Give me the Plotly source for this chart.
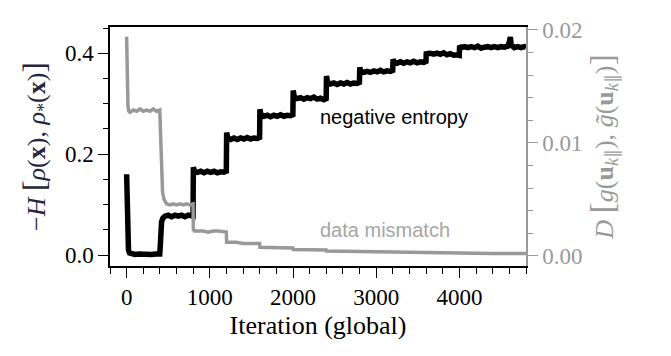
import plotly.graph_objects as go

# ---- data: negative entropy (left axis) ----
ent_iter = [0, 4, 8, 14, 22, 35, 60, 100, 150, 200, 250, 300, 350, 398,
            405, 412, 420, 435, 460, 500, 540, 580, 620, 660, 700, 740, 780, 798,
            802, 815, 850, 890, 930, 970, 1010, 1050, 1090, 1130, 1170, 1198,
            1202, 1215, 1250, 1290, 1330, 1370, 1410, 1450, 1490, 1530, 1570, 1598,
            1602, 1615, 1650, 1690, 1730, 1770, 1810, 1850, 1890, 1930, 1970, 1998,
            2002, 2015, 2050, 2090, 2130, 2170, 2210, 2250, 2290, 2330, 2370, 2398,
            2402, 2415, 2450, 2490, 2530, 2570, 2610, 2650, 2690, 2730, 2770, 2798,
            2802, 2815, 2850, 2890, 2930, 2970, 3010, 3050, 3090, 3130, 3170, 3198,
            3202, 3215, 3250, 3290, 3330, 3370, 3410, 3450, 3490, 3530, 3570, 3598,
            3602, 3615, 3650, 3690, 3730, 3770, 3810, 3850, 3890, 3930, 3970, 3998,
            4002, 4020, 4060, 4100, 4140, 4180, 4220, 4260, 4300, 4340, 4380, 4420,
            4460, 4500, 4540, 4580, 4600, 4612, 4622, 4660, 4700, 4740, 4780, 4800]
ent_vals = [0.160, 0.110, 0.060, 0.025, 0.010, 0.004, 0.002, 0.001, 0.002, 0.001, 0.002, 0.001, 0.002, 0.002,
            0.020, 0.050, 0.066, 0.073, 0.077, 0.079, 0.076, 0.079, 0.077, 0.079, 0.076, 0.079, 0.078, 0.077,
            0.174, 0.166, 0.164, 0.166, 0.163, 0.166, 0.164, 0.166, 0.163, 0.165, 0.164, 0.166,
            0.243, 0.232, 0.229, 0.232, 0.229, 0.232, 0.230, 0.233, 0.230, 0.232, 0.231, 0.233,
            0.289, 0.278, 0.275, 0.277, 0.274, 0.277, 0.275, 0.278, 0.275, 0.277, 0.276, 0.278,
            0.326, 0.313, 0.310, 0.312, 0.309, 0.312, 0.310, 0.313, 0.309, 0.311, 0.308, 0.310,
            0.355, 0.342, 0.339, 0.341, 0.338, 0.341, 0.339, 0.342, 0.339, 0.341, 0.340, 0.342,
            0.372, 0.364, 0.362, 0.364, 0.362, 0.365, 0.363, 0.366, 0.363, 0.365, 0.364, 0.366,
            0.388, 0.382, 0.380, 0.383, 0.380, 0.383, 0.381, 0.384, 0.381, 0.383, 0.382, 0.384,
            0.403, 0.399, 0.400, 0.398, 0.400, 0.398, 0.401, 0.397, 0.399, 0.396, 0.397, 0.396,
            0.415, 0.411, 0.413, 0.411, 0.413, 0.411, 0.414, 0.410, 0.412, 0.413, 0.411, 0.413,
            0.411, 0.413, 0.412, 0.414, 0.422, 0.432, 0.416, 0.411, 0.413, 0.411, 0.413, 0.412]

# ---- data: data mismatch (right axis) ----
mis_iter = [0, 3, 6, 10, 16, 25, 40, 80, 120, 160, 200, 240, 280, 320, 360, 398,
            405, 412, 420, 432, 450, 480, 520, 560, 600, 640, 680, 720, 760, 798,
            802, 815, 860, 920, 980, 1040, 1100, 1160, 1198,
            1202, 1260, 1320, 1400, 1480, 1560, 1598,
            1602, 1700, 1800, 1900, 1998,
            2002, 2100, 2200, 2300, 2398,
            2402, 2500, 2600, 2700, 2798,
            2802, 3000, 3198,
            3202, 3400, 3598,
            3602, 3800, 3998,
            4002, 4400, 4800]
mis_vals = [0.0194, 0.0175, 0.0155, 0.0140, 0.0132, 0.0128, 0.0127, 0.0129, 0.0128, 0.0130, 0.0128, 0.0129, 0.0128, 0.0130, 0.0128, 0.0129,
            0.0110, 0.0085, 0.0068, 0.0056, 0.0050, 0.0046, 0.0045, 0.0046, 0.0045, 0.0046, 0.0045, 0.0046, 0.0045, 0.0046,
            0.0023, 0.0022, 0.0022, 0.0022, 0.0021, 0.0022, 0.0022, 0.0021, 0.0021,
            0.0012, 0.0012, 0.0012, 0.0011, 0.0011, 0.0011, 0.0011,
            0.00075, 0.00072, 0.00072, 0.0007, 0.0007,
            0.00055, 0.00054, 0.00053, 0.00052, 0.00052,
            0.00042, 0.00041, 0.00040, 0.00040, 0.00039,
            0.00033, 0.00032, 0.00031,
            0.00027, 0.00026, 0.00026,
            0.00024, 0.00023, 0.00023,
            0.00021, 0.00020, 0.00020]

GRAY = "#999999"
SERIF = "Liberation Serif, Times New Roman, serif"
SANS = "Liberation Sans, Arial, sans-serif"

fig = go.Figure()
fig.add_trace(go.Scatter(x=mis_iter, y=mis_vals, yaxis="y2", mode="lines",
                         line=dict(color=GRAY, width=3.5), showlegend=False))
fig.add_trace(go.Scatter(x=ent_iter, y=ent_vals, yaxis="y", mode="lines",
                         line=dict(color="black", width=5.5), showlegend=False))

fig.update_layout(
    width=671, height=356,
    margin=dict(l=110, r=145, t=27, b=90, autoexpand=False),
    plot_bgcolor="white", paper_bgcolor="white",
    xaxis=dict(range=[-200, 4800], dtick=1000, tick0=0, ticks="outside", ticklen=10, tickwidth=1.3,
               tickcolor="black", showline=True, linecolor="black", linewidth=1.5, mirror=True,
               showgrid=False, zeroline=False, automargin=False,
               minor=dict(dtick=200, tick0=0, ticks="outside", ticklen=6, tickwidth=1.1, tickcolor="black", showgrid=False),
               tickfont=dict(family=SERIF, size=23, color="black"),
               title=dict(text="Iteration (global)", font=dict(family=SERIF, size=26, color="black"), standoff=6)),
    yaxis=dict(range=[-0.0218, 0.452], dtick=0.2, tick0=0, tickformat=".1f", ticks="outside", ticklen=10,
               tickwidth=1.3, tickcolor="black", showline=True, linecolor="black", linewidth=1.5,
               showgrid=False, zeroline=False, automargin=False,
               minor=dict(dtick=0.05, tick0=0, ticks="outside", ticklen=5, tickwidth=1.1, tickcolor="black", showgrid=False),
               tickfont=dict(family=SERIF, size=23, color="black"),
               title=dict(text="−<i>H</i> <span style='font-size:32px'>[</span><i>ρ</i>(<b>x</b>), <i>ρ</i><sub>*</sub>(<b>x</b>)<span style='font-size:32px'>]</span>",
                          font=dict(family=SERIF, size=26, color="#262640"), standoff=12)),
    yaxis2=dict(overlaying="y", side="right", range=[-0.0009, 0.02025], dtick=0.01, tick0=0, tickformat=".2f",
                ticks="outside", ticklen=10, tickwidth=1.3, tickcolor=GRAY, showline=True, linecolor=GRAY,
                linewidth=1.5, showgrid=False, zeroline=False, automargin=False,
                minor=dict(dtick=0.002, tick0=0, ticks="outside", ticklen=5, tickwidth=1.1, tickcolor=GRAY, showgrid=False),
                tickfont=dict(family=SERIF, size=23, color=GRAY),
                title=dict(text="<i>D</i> <span style='font-size:34px'>[</span><i>g</i>(<b>u</b><sub><i>k</i>∥</sub>), <i>g̃</i>(<b>u</b><sub><i>k</i>∥</sub>)<span style='font-size:34px'>]</span>",
                           font=dict(family=SERIF, size=26, color=GRAY), standoff=12)),
    annotations=[
        dict(x=2300, y=0.273, xref="x", yref="y", text="negative entropy", showarrow=False,
             xanchor="left", yanchor="middle", font=dict(family=SANS, size=20, color="black")),
        dict(x=2300, y=0.0495, xref="x", yref="y", text="data mismatch", showarrow=False,
             xanchor="left", yanchor="middle", font=dict(family=SANS, size=20, color="#a6a6a6")),
    ],
)

fig.write_html("out.html", config={"displayModeBar": False},
               post_script="document.body.style.margin='0';document.body.style.overflow='hidden';")
